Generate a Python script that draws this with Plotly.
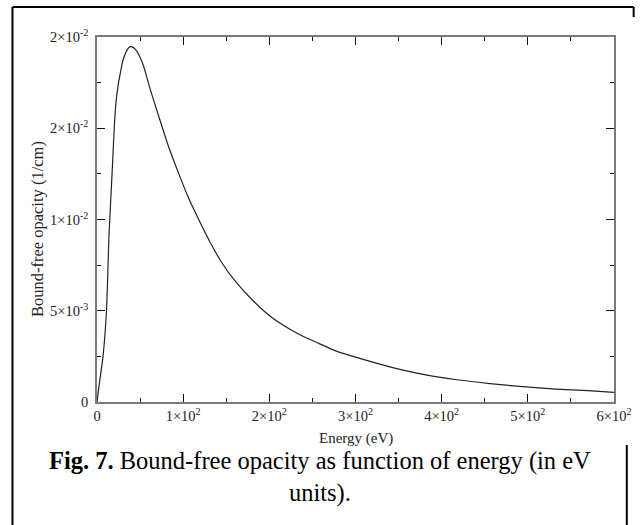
import plotly.graph_objects as go

# Data
energy_ev = [0, 3, 7, 11, 14, 18, 20, 22, 25, 27, 30, 34, 37, 40, 45, 53, 62, 72, 83, 95,
             106, 118, 133, 144, 159, 178, 201, 220, 239, 258, 277, 304, 342, 380,
             418, 456, 494, 532, 570, 600]
opacity = [0, 0.0011, 0.0025, 0.0050, 0.0092, 0.0130, 0.0150, 0.0164, 0.0175, 0.0180,
           0.0187, 0.0192, 0.01943, 0.01947, 0.0193, 0.01855, 0.0171, 0.0156, 0.0140,
           0.0125, 0.0112, 0.0100, 0.0086, 0.0077, 0.0067, 0.0057, 0.0047,
           0.0041, 0.0036, 0.0032, 0.0028, 0.0024, 0.0019, 0.0015, 0.00122,
           0.00101, 0.00084, 0.00071, 0.00062, 0.00053]

x_tickvals = [0, 100, 200, 300, 400, 500, 600]
x_ticktext = ["0", "1×10<sup>2</sup>", "2×10<sup>2</sup>", "3×10<sup>2</sup>",
              "4×10<sup>2</sup>", "5×10<sup>2</sup>", "6×10<sup>2</sup>"]
y_tickvals = [0, 0.005, 0.01, 0.015, 0.02]
y_ticktext = ["0", "5×10<sup>-3</sup>", "1×10<sup>-2</sup>", "2×10<sup>-2</sup>",
              "2×10<sup>-2</sup>"]

W, H = 644, 525
L, R, T, B = 97, 623, 37, 402
FONT = "Liberation Serif, Times New Roman, serif"


def px(x):
    return (x - L) / (R - L)


def py(y):
    return (B - y) / (B - T)


fig = go.Figure()
fig.add_trace(go.Scatter(x=energy_ev, y=opacity, mode="lines",
                         line=dict(color="#222222", width=1.2, shape="spline",
                                   smoothing=0.6),
                         showlegend=False, hoverinfo="skip"))

axis_common = dict(
    showgrid=False, zeroline=False, showline=True, linecolor="#7a7a7a",
    linewidth=1.5, mirror="allticks", ticks="inside", ticklen=8,
    tickcolor="#111111", tickwidth=1,
    tickfont=dict(family=FONT, size=14.5, color="#222222"),
)

fig.update_xaxes(range=[0, 600], tickvals=x_tickvals, ticktext=x_ticktext,
                 minor=dict(ticks="inside", ticklen=4, tickvals=[50, 150, 250, 350, 450, 550],
                            tickcolor="#111111"),
                 **axis_common)
fig.update_yaxes(range=[0, 0.02], tickvals=y_tickvals, ticktext=y_ticktext,
                 ticklabelstandoff=4,
                 minor=dict(ticks="inside", ticklen=4,
                            tickvals=[0.0025, 0.0075, 0.0125, 0.0175],
                            tickcolor="#111111"),
                 **axis_common)

shapes = []
border = dict(type="line", xref="paper", yref="paper",
              line=dict(color="black", width=2))
shapes.append(dict(border, x0=px(11), x1=px(11), y0=py(7), y1=py(525)))
shapes.append(dict(border, x0=px(11), x1=px(643), y0=py(7), y1=py(7)))
shapes.append(dict(border, x0=px(643), x1=px(643), y0=py(7), y1=py(17)))
shapes.append(dict(border, x0=px(636), x1=px(636), y0=py(445), y1=py(525)))

annotations = [
    dict(text="Energy (eV)", xref="paper", yref="paper", x=px(360), y=py(439),
         showarrow=False, font=dict(family=FONT, size=15, color="#222222"),
         xanchor="center", yanchor="middle"),
    dict(text="Bound-free opacity (1/cm)", xref="paper", yref="paper",
         x=px(36), y=py(229), textangle=-90, showarrow=False,
         font=dict(family=FONT, size=16.5, color="#222222"),
         xanchor="center", yanchor="middle"),
    dict(text="<b>Fig. 7.</b> Bound-free opacity as function of energy (in eV<br>units).",
         xref="paper", yref="paper", x=px(324), y=py(445), showarrow=False,
         font=dict(family=FONT, size=24.5, color="black"),
         xanchor="center", yanchor="top", align="center"),
]

fig.update_layout(
    width=W, height=H,
    margin=dict(l=L, r=W - R, t=T, b=H - B),
    paper_bgcolor="white", plot_bgcolor="white",
    shapes=shapes, annotations=annotations,
    font=dict(family=FONT),
)

fig.write_html("out.html")
